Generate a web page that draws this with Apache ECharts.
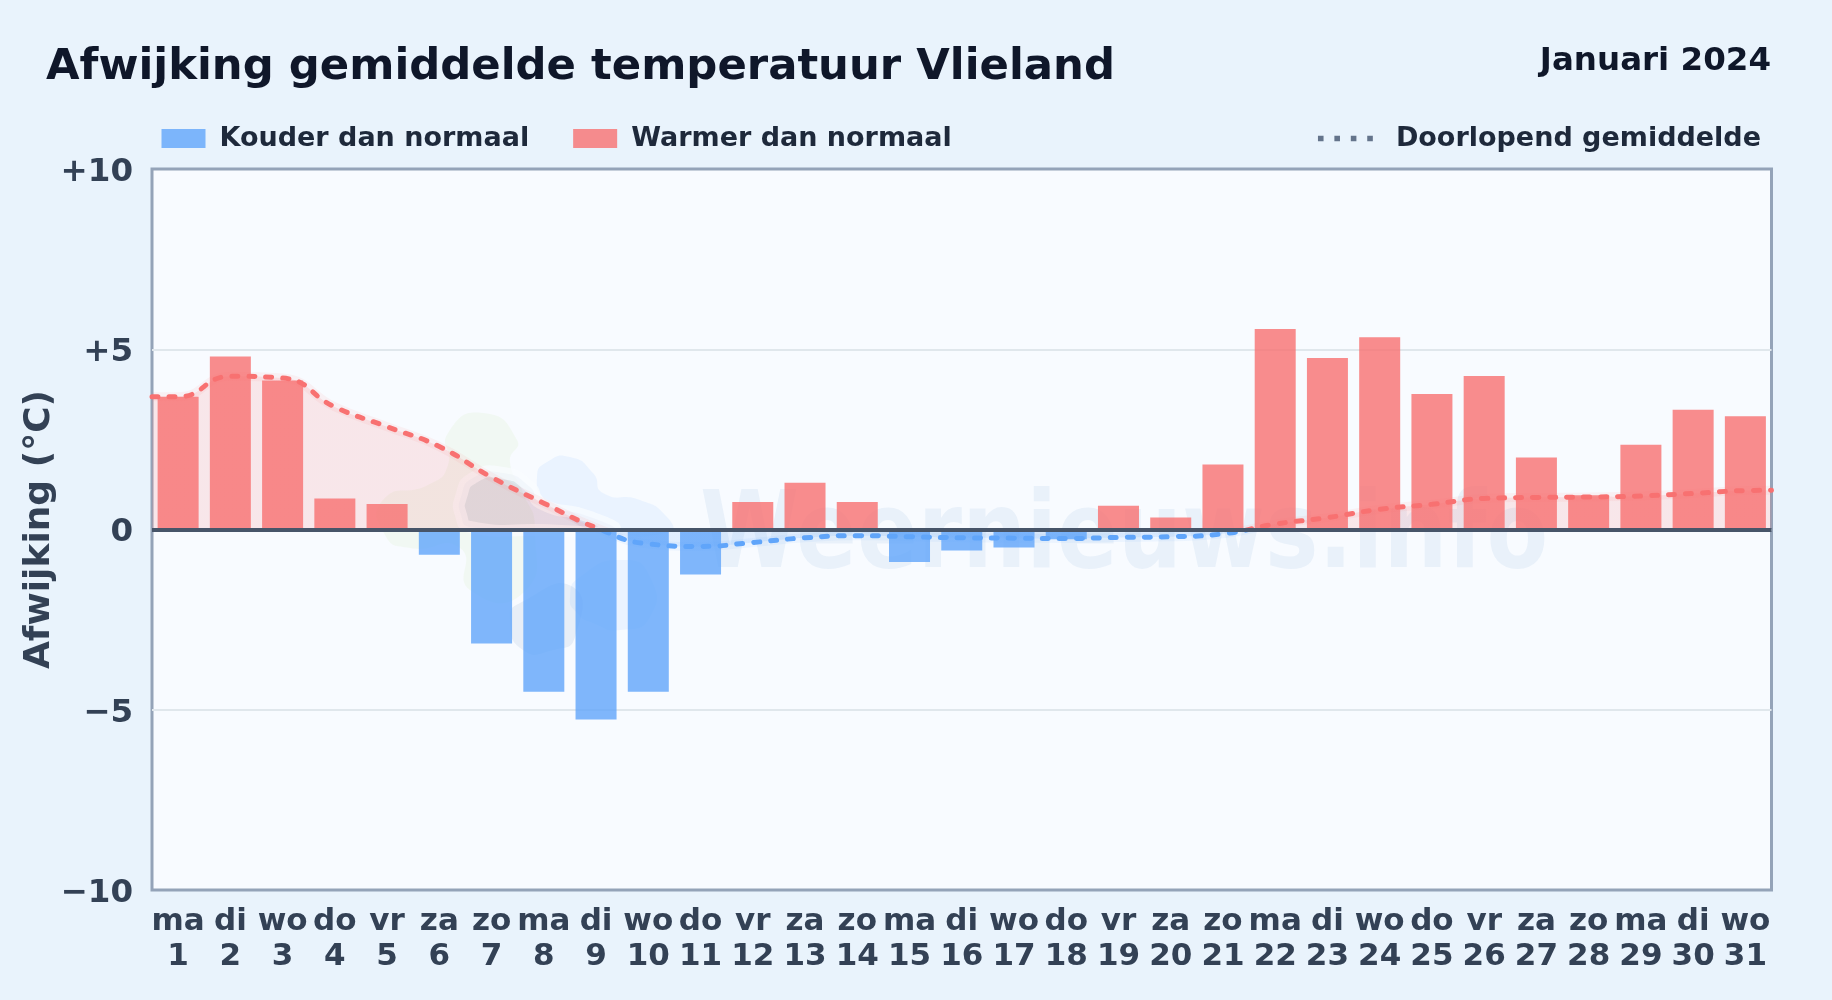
<!DOCTYPE html>
<html>
<head>
<meta charset="utf-8">
<style>html,body{margin:0;padding:0;background:#e9f3fc;}#c{width:1832px;height:1000px;}</style>
<script src="https://cdn.jsdelivr.net/npm/echarts@6/dist/echarts.min.js"></script>
</head>
<body>
<div id="c"></div>
<script>
const weekdays = ['ma','di','wo','do','vr','za','zo','ma','di','wo','do','vr','za','zo','ma','di','wo','do','vr','za','zo','ma','di','wo','do','vr','za','zo','ma','di','wo'];
const days = [1,2,3,4,5,6,7,8,9,10,11,12,13,14,15,16,17,18,19,20,21,22,23,24,25,26,27,28,29,30,31];
const deviation = [3.68,4.8,4.13,0.86,0.71,-0.7,-3.16,-4.5,-5.27,-4.5,-1.25,0.76,1.3,0.76,-0.9,-0.58,-0.5,-0.27,0.66,0.33,1.8,5.56,4.76,5.33,3.76,4.26,2.0,0.95,2.35,3.32,3.14];
const meanX = [0.5,1,2,3,4,5,6,7,8,9,10,11,12,13,14,15,16,17,18,19,20,21,22,23,24,25,26,27,28,29,30,31,31.5];
const meanY = [3.68,3.68,4.25,4.2,3.4,2.85,2.3,1.45,0.73,0.05,-0.4,-0.47,-0.36,-0.23,-0.17,-0.2,-0.23,-0.24,-0.25,-0.22,-0.2,-0.12,0.15,0.33,0.56,0.7,0.86,0.89,0.9,0.93,1.0,1.08,1.09];
const yTicks = {'10':'+10','5':'+5','0':'0','-5':'\u22125','-10':'\u221210'};
const FONT = '"DejaVu Sans"';
const logoShapes = [
  {fill:'rgba(185,225,140,0.10)',points:[[448,433],[483,413],[517,440],[510,462],[522,490],[535,530],[523,593],[470,590],[460,548],[410,548],[385,535],[383,500],[430,484],[448,465]]},
  {fill:'rgba(96,165,250,0.09)',points:[[537,477],[547,462],[570,457],[593,473],[603,493],[640,500],[667,517],[670,532],[600,532],[570,520],[545,500]]},
  {fill:'rgba(96,165,250,0.09)',points:[[570,597],[580,577],[623,560],[650,577],[650,617],[620,630],[593,623],[577,613]]},
  {fill:'rgba(70,110,170,0.09)',points:[[510,620],[520,603],[573,587],[575,637],[553,650],[523,650]]},
  {fill:'rgba(70,110,170,0.12)',halo:true,points:[[461,497],[473,478],[503,473],[530,487],[540,503],[590,517],[613,530],[540,530],[470,527],[461,515]]}
];
const meanData = meanX.map((x,i)=>[x,meanY[i]]);
const chart = echarts.init(document.getElementById('c'));
chart.setOption({
  animation:false,
  backgroundColor:'#e9f3fc',
  textStyle:{fontFamily:FONT},
  title:[
    {text:'Afwijking gemiddelde temperatuur Vlieland',left:41,top:41,textStyle:{fontFamily:FONT,fontSize:43.35,fontWeight:'bold',color:'#0f172a'}},
    {text:'Januari 2024',right:56,top:40,textStyle:{fontFamily:FONT,fontSize:32.5,fontWeight:'bold',color:'#0f172a'}}
  ],
  legend:[
    {left:156.5,top:120,itemWidth:44,itemHeight:19,itemGap:44,
     textStyle:{fontFamily:FONT,fontSize:27,fontWeight:'bold',color:'#1e293b',padding:[0,0,0,9]},
     data:[{name:'Kouder dan normaal',icon:'rect'},{name:'Warmer dan normaal',icon:'rect'}]},
    {right:66,top:120,itemWidth:55,itemHeight:5.6,
     textStyle:{fontFamily:FONT,fontSize:27,fontWeight:'bold',color:'#1e293b',padding:[0,0,0,18]},
     data:[{name:'Doorlopend gemiddelde',icon:'path://M0 0h6v6H0zM17.6 0h6v6h-6zM35.2 0h6v6h-6zM52.8 0h6v6h-6z',itemStyle:{color:'#64748b'}}]}
  ],
  grid:{left:152,right:60.5,top:169,bottom:110,show:true,backgroundColor:'#f8fbff',borderColor:'#94a3b8',borderWidth:3},
  xAxis:[
    {type:'category',data:weekdays.map((w,i)=>w+'\n'+days[i]),axisLine:{show:false},axisTick:{show:false},splitLine:{show:false},
     axisLabel:{interval:0,margin:14.5,fontFamily:FONT,fontSize:31,fontWeight:'bold',color:'#334155',lineHeight:35}},
    {type:'value',min:0.5,max:31.5,show:false}
  ],
  yAxis:{type:'value',min:-10,max:10,interval:5,name:'Afwijking (\u00b0C)',nameLocation:'middle',nameGap:94,nameRotate:90,nameMoveOverlap:false,
    nameTextStyle:{fontFamily:FONT,fontSize:36,fontWeight:'bold',color:'#334155'},
    axisLine:{show:false},axisTick:{show:false},
    splitLine:{show:true,showMinLine:false,showMaxLine:false,lineStyle:{color:'#e0e7ec',width:2}},
    axisLabel:{margin:19,fontFamily:FONT,fontSize:32.5,fontWeight:'bold',color:'#334155',
      formatter:v=>'{t|'+yTicks[String(v)]+'}',
      rich:{t:{fontFamily:FONT,fontSize:32.5,fontWeight:'bold',color:'#334155',padding:[7,0,0,0]}}}},
  visualMap:{show:false,type:'piecewise',seriesIndex:[2,3],dimension:1,pieces:[{gt:-100,lt:0,color:'#60a5fa'},{gte:0,lt:100,color:'#f87171'}]},
  graphic:[
    ...logoShapes.map(s=>({type:'polygon',z:1,silent:true,shape:{points:s.points,smooth:0.6},
      style:{fill:s.fill,stroke:s.halo?'rgba(250,252,255,0.7)':null,lineWidth:s.halo?12:0}})),
    {type:'text',z:1,silent:true,x:700,y:486,scaleX:0.84,style:{text:'Weernieuws.info',fontFamily:FONT,fontSize:107,fontWeight:'bold',fill:'rgba(50,120,190,0.075)'}}
  ],
  series:[
    {name:'Kouder dan normaal',type:'bar',barWidth:'78.5%',barGap:'-100%',z:3,itemStyle:{color:'rgba(96,165,250,0.8)'},
     data:deviation.map(v=>v<0?v:null)},
    {name:'Warmer dan normaal',type:'bar',barWidth:'78.5%',barGap:'-100%',z:3,itemStyle:{color:'rgba(248,113,113,0.8)'},
     data:deviation.map(v=>v>=0?v:null),
     markLine:{silent:true,symbol:'none',z:6,label:{show:false},lineStyle:{color:'#475569',width:4,type:'solid'},data:[{yAxis:0}]}},
    {name:'Doorlopend gemiddelde',type:'line',xAxisIndex:1,z:5,smooth:0.5,symbol:'none',
     lineStyle:{width:5,type:[6,11],cap:'round'},
     data:meanData},
    {name:'Verloop',type:'line',xAxisIndex:1,z:4,smooth:0.5,symbol:'none',
     lineStyle:{width:9,opacity:0.08},
     areaStyle:{opacity:0.15,origin:0},
     data:meanData}
  ]
});
</script>
</body>
</html>
